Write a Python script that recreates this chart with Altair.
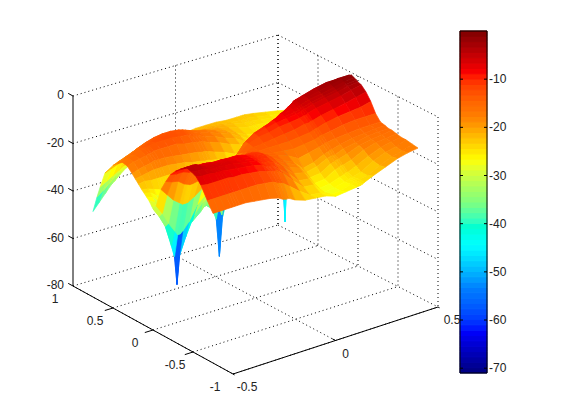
import altair as alt
import pandas as pd

alt.data_transformers.disable_max_rows()

# Surface mesh: x (columns), y (rows), z in dB
x_grid = [-.5,-.47,-.44,-.41,-.395,-.383,-.37,-.34,-.30,-.26,-.22,-.18,-.16,-.145,-.13,-.10,-.05,0,.05,.10,.15,.20,.22,.23,.24,.28,.34,.40,.45,.50]
y_grid = [.75,.70,.66,.60,.50,.44,.38,.32,.26,.22,.18,.14,.11,.08,.05,.02,0,-.04,-.10,-.16,-.22,-.28,-.34,-.38,-.425,-.48,-.54,-.60,-.68,-.75]
z_rows = [
[-44,-41,-38,-35,-34,-33,-32,-30,-28,-26.5,-25.5,-24.5,-24,-24,-23.5,-23,-22.5,-22,-22,-22,-22.5,-22.5,-22.5,-22.5,-22.5,-23,-24,-25,-26,-27],
[-37,-35,-33,-30.5,-29.5,-29,-28,-26.5,-25,-24,-23,-22.5,-22,-22,-22,-21.5,-21.5,-21.5,-21.5,-22,-22.5,-23,-23,-23,-23,-23.5,-24.5,-25.5,-26,-27],
[-32,-30.5,-29,-27.5,-26.5,-26,-25.5,-24.5,-23,-22,-21,-20.5,-20.5,-20.5,-20.5,-20.5,-20.5,-21,-21,-21.5,-22.5,-23.5,-23.5,-23.5,-23.5,-24,-25,-25.5,-26,-27],
[-25,-24,-23,-22,-21.5,-21,-20,-19,-18,-17.5,-17,-17,-17,-17,-17,-18,-19,-20,-20.5,-21.5,-23,-24,-24,-24,-24,-24.5,-25,-26,-26.5,-27],
[-20,-19,-18,-17,-16.5,-16,-15.5,-14.5,-13.5,-13,-13,-13.5,-14,-14.5,-15,-16,-17,-18.5,-20,-22,-24,-25,-25.5,-25.5,-25.5,-26,-26,-26.5,-27,-27],
[-18,-17,-16,-15,-14.5,-14,-14,-13,-12.5,-12.5,-12.5,-13,-14,-14.5,-15,-15.5,-17,-18.5,-20,-22.5,-25,-26,-26,-26.5,-26.5,-26.5,-26.5,-27,-27,-27],
[-16.5,-15.5,-15,-14,-13.5,-13.5,-13,-12.5,-12.5,-12.5,-13,-13.5,-14.5,-14.5,-15,-16,-17.5,-19.5,-21,-23.5,-26,-27,-27,-27,-27,-27,-27,-27,-26.5,-26],
[-17,-16,-15.5,-15,-14.5,-14.5,-14,-14,-14,-14,-15,-15.5,-16,-16,-16.5,-17.5,-19,-21,-22.5,-25,-27,-28,-28,-28,-28,-28,-28,-28,-27,-24],
[-19,-18,-17.5,-17,-16.5,-16.5,-16.5,-16.5,-17,-17.5,-18,-18.5,-19,-19,-19.5,-20.5,-22,-24,-25.5,-27,-28.5,-30,-31,-33,-31,-31,-31,-32,-26,-20],
[-20.5,-20,-19.5,-19,-19,-19,-19,-19,-19.5,-20,-21,-21.5,-22,-22,-22.5,-23,-25,-26.5,-28,-29,-30,-32,-36,-58,-36,-30,-26,-20,-16,-14],
[-22,-21.5,-22,-22,-22,-22,-22,-22,-22,-23,-24,-24.5,-25,-26,-25,-25.5,-27.5,-29,-30,-30.5,-31,-24,-18,-14,-12,-10,-7,-5.5,-6,-8],
[-23.5,-24,-25,-26,-26,-26,-26,-26,-26,-26.5,-27.5,-28,-29,-30,-28.5,-29,-31,-32,-28,-22,-16,-10,-8,-7,-6,-5,-3.5,-2.5,-2.5,-3],
[-24.5,-25,-27,-28.5,-29,-29,-29,-29,-29,-29.5,-31,-33,-35,-37,-35,-35,-33,-28,-22,-15,-10,-7,-6,-5.5,-5,-4.5,-3,-2,-1.5,-1.5],
[-25.5,-26.5,-29,-31,-32,-32,-32,-32,-33,-34,-36,-39,-44,-60,-44,-34,-27,-20,-15,-11,-8,-6.5,-6,-5.5,-5.5,-4.5,-3.5,-2.5,-1.5,-1],
[-26.5,-28,-32,-35,-37,-37,-37,-37,-37,-37,-36,-36,-38,-42,-36,-26,-20,-15,-11,-9,-7.5,-7,-6.5,-6,-6,-5,-4,-3,-2,-1.5],
[-28,-31,-36,-41,-44,-46,-44,-41,-40,-37,-33,-31,-30.5,-30,-29,-20,-14,-11,-9.5,-8.5,-8,-7.5,-7,-6.5,-6.5,-5.5,-4.5,-3.5,-2.5,-2],
[-29,-33,-38,-47,-52,-64,-52,-45,-37,-33,-31,-28.5,-27.5,-27,-26,-18,-13,-11,-10,-9,-8.5,-8,-7.5,-7,-7,-6,-5,-4,-3,-2.5],
[-27,-31,-36,-40,-42,-42,-41,-38,-32,-29,-27,-25,-24,-23.5,-22.5,-16,-13,-11.5,-11,-10,-9.5,-9,-8.5,-8.5,-8,-7,-6,-5,-4,-3],
[-19,-22,-25,-27,-28,-28,-28,-26.5,-24,-22.5,-21,-19.5,-19,-19,-18,-14.5,-13.5,-13,-12.5,-12,-11.5,-10.5,-10.5,-10,-10,-9,-8,-7,-6,-5],
[-14.5,-15.5,-16,-18,-18.5,-19,-19,-18.5,-18,-17,-16,-15.5,-15.5,-15.5,-15,-13,-14,-14,-14,-14,-13.5,-13,-12.5,-12,-12,-11,-10,-9.5,-9,-8],
[-10.5,-11,-11,-12,-12,-12,-12,-12.5,-13,-12.5,-12,-12.5,-12.5,-12.5,-12,-12,-14,-15,-15.5,-16,-15.5,-15,-14.5,-14,-14,-13.5,-12.5,-12,-12,-12],
[-8,-8,-8,-8.5,-8.5,-8.5,-8.5,-9,-9.5,-9.5,-9.5,-10,-10.5,-10.5,-10.5,-11,-13.5,-15,-16.5,-19,-18,-17,-16.5,-16,-16,-15.5,-15,-14.5,-14.5,-14.5],
[-6,-6,-6,-7,-7,-7,-7,-7.5,-7.5,-8,-8,-9,-9.5,-10,-10,-10.5,-13.5,-16,-18,-22,-21,-19,-18.5,-18,-18,-17,-16,-15.5,-15,-15],
[-5,-5,-5,-6.5,-6.5,-6.5,-6.5,-7,-7,-7.5,-8,-9,-9.5,-10,-10,-10.5,-14,-16.5,-18.5,-23,-22,-20,-19.5,-19.5,-19.5,-18,-17,-16,-15.5,-15.5],
[-4,-4.5,-4.5,-6,-6,-6,-6,-6.5,-6.5,-7.5,-8,-9,-9.5,-10,-10,-11,-14.5,-17.5,-19,-24.5,-24,-21.5,-21,-20.5,-20.5,-19.5,-17.5,-16.5,-16,-15.5],
[-4.5,-5,-5,-6,-6,-6,-6,-6.5,-6.5,-7.5,-8,-9,-10,-10.5,-10.5,-11.5,-15,-19,-20,-26,-25.5,-23,-22.5,-22,-22,-21,-18.5,-17,-16.5,-16],
[-5.5,-6,-6,-6.5,-6.5,-6.5,-6.5,-7,-7.5,-8,-8.5,-9.5,-10.5,-11,-11,-13,-16.5,-21,-21.5,-27,-26.5,-25,-24.5,-24,-24,-22.5,-20,-18,-17,-16.5],
[-8,-8.5,-8.5,-8.5,-8.5,-8.5,-8.5,-9,-9,-9.5,-10,-11,-11.5,-12,-12,-14,-18.5,-22.5,-23,-27.5,-27,-26,-25.5,-25,-25,-24,-21,-19,-18,-16.5],
[-13,-13,-13,-13,-13,-13,-13,-13,-13,-13,-13.5,-14,-15,-15.5,-16,-18,-21.5,-24.5,-25,-27,-27,-25.5,-25,-25,-24.5,-24,-21.5,-19.5,-18.5,-17],
[-17,-17,-17,-17,-17,-17,-17,-17,-17.5,-18,-18.5,-19.5,-20.5,-21,-21,-22.5,-24,-24.5,-25,-26.5,-26,-25.5,-25.3,-25,-24.5,-23,-21,-19,-18,-17.4],
]

x_ticks = [-0.5, 0, 0.5]
y_ticks = [1, 0.5, 0, -0.5, -1]
z_ticks = [0, -20, -40, -60, -80]
cb_ticks = [-10, -20, -30, -40, -50, -60, -70]
z_tick_labels = ["0", "-20", "-40", "-60", "-80"]
y_tick_labels = ["1", "0.5", "0", "-0.5", "-1"]
x_tick_labels = ["-0.5", "0", "0.5"]
cb_tick_labels = ["-10", "-20", "-30", "-40", "-50", "-60", "-70"]

jet = ["#00007f", "#0000ff", "#007fff", "#00ffff", "#7fff7f", "#ffff00", "#ff7f00", "#ff0000", "#7f0000"]
color_scale = alt.Scale(domain=[-71, 0], range=jet, clamp=True)

W, H = 545, 404
OX, OY = 8, 8  # page margin


def proj(x, y, z):
    """3D view: corners of the floor as seen on the picture."""
    s, t = x + 0.5, (1 - y) / 2
    fx = 73 + 205 * s + 160 * t
    fy = 286 - 61 * s + 88 * t - 6 * s * t
    return fx - OX, fy - 2.375 * (z + 80) - OY


# surface cells, far to near; each cell is one filled path coloured by its corners
rows = []
cell = 0
for j in range(len(y_grid) - 1):
    for i in range(len(x_grid) - 2, -1, -1):
        c = [(i, j), (i + 1, j), (i + 1, j + 1), (i, j + 1)]
        zs = [z_rows[b][a] for a, b in c]
        zm = sum(zs) / 4
        if max(zs) - min(zs) > 12:  # keep the deep nulls dark
            zm = (zm + min(zs)) / 2
        for k, (a, b) in enumerate(c + c[:1]):
            px, py = proj(x_grid[a], y_grid[b], z_rows[b][a])
            rows.append({"px": px, "py": py, "cell": cell, "k": k, "zm": zm})
        cell += 1
surface_df = pd.DataFrame(rows)

xs = alt.X("px:Q", scale=alt.Scale(domain=[0, W], range=[0, W], nice=False, zero=False), axis=None)
ys = alt.Y("py:Q", scale=alt.Scale(domain=[H, 0], range=[H, 0], nice=False, zero=False), axis=None)

surface = alt.Chart(surface_df).mark_line(filled=True, strokeWidth=0.7, interpolate="linear").encode(
    x=xs, y=ys,
    detail="cell:Q",
    order="k:Q",
    fill=alt.Fill("zm:Q", scale=color_scale, legend=None),
    stroke=alt.Stroke("zm:Q", scale=color_scale, legend=None),
)


def seg(p, q):
    a, b = proj(*p), proj(*q)
    return {"px": a[0], "py": a[1], "px2": b[0], "py2": b[1]}


dotted = []
for z in z_ticks[:-1]:
    dotted.append(seg((-.5, 1, z), (.5, 1, z)))
    dotted.append(seg((.5, 1, z), (.5, -1, z)))
for x in x_ticks[1:]:
    dotted.append(seg((x, 1, 0), (x, 1, -80)))
for x in x_ticks:
    dotted.append(seg((x, 1, -80), (x, -1, -80)))
for y in y_ticks:
    dotted.append(seg((.5, y, 0), (.5, y, -80)))
    dotted.append(seg((-.5, y, -80), (.5, y, -80)))
grid = alt.Chart(pd.DataFrame(dotted)).mark_rule(color="black", strokeWidth=1, strokeDash=[1, 3]).encode(
    x=xs, y=ys, x2="px2:Q", y2="py2:Q")

solid = [seg((-.5, 1, 0), (-.5, 1, -80)), seg((-.5, 1, -80), (-.5, -1, -80)), seg((-.5, -1, -80), (.5, -1, -80))]
for z in z_ticks:
    solid.append(seg((-.5, 1, z), (-.5, 1.06, z)))
for y in y_ticks[1:-1]:
    solid.append(seg((-.5, y, -80), (-.54, y, -80)))
for x in x_ticks:
    solid.append(seg((x, -1, -80), (x, -.96, -80)) if x == 0 else seg((x, -1, -80), (x, -1.02, -80)))
axes_lines = alt.Chart(pd.DataFrame(solid)).mark_rule(color="black", strokeWidth=1).encode(
    x=xs, y=ys, x2="px2:Q", y2="py2:Q")

text_rows = []
for lab, z in zip(z_tick_labels, z_ticks):
    a = proj(-.5, 1, z)
    text_rows.append({"px": a[0] - 9, "py": a[1] - 1, "t": lab, "al": "right"})
for lab, y in zip(y_tick_labels, y_ticks):
    a = proj(-.5, y, -80)
    text_rows.append({"px": a[0] - 18, "py": a[1] + 13, "t": lab, "al": "center"})
for lab, x in zip(x_tick_labels, x_ticks):
    a = proj(x, -1, -80)
    text_rows.append({"px": a[0] + (14 if x else 10), "py": a[1] + 13, "t": lab, "al": "center"})
text_df = pd.DataFrame(text_rows)
labels = alt.layer(*[
    alt.Chart(text_df[text_df.al == al]).mark_text(align=al, baseline="middle", fontSize=12, font="Liberation Sans", color="#222222").encode(
        x=xs, y=ys, text="t:N")
    for al in ["right", "center"]
])


# colour bar
def cb_y(v):
    return 31 + (0 - v) * (373 - 31) / 71 - OY


cb_x0, cb_x1 = 460 - OX, 487 - OX
levels = [-71 + i * 71 / 64 for i in range(65)]
cb_df = pd.DataFrame([{"px": cb_x0, "px2": cb_x1, "py": cb_y(levels[i]), "py2": cb_y(levels[i + 1]),
                       "v": (levels[i] + levels[i + 1]) / 2} for i in range(64)])
cb = alt.Chart(cb_df).mark_rect(strokeWidth=1).encode(
    x=xs, y=ys, x2="px2:Q", y2="py2:Q",
    fill=alt.Fill("v:Q", scale=color_scale, legend=None),
    stroke=alt.Stroke("v:Q", scale=color_scale, legend=None))
cb_lines = [{"px": cb_x0, "py": cb_y(0), "px2": cb_x1, "py2": cb_y(0)},
            {"px": cb_x0, "py": cb_y(-71), "px2": cb_x1, "py2": cb_y(-71)},
            {"px": cb_x0, "py": cb_y(0), "px2": cb_x0, "py2": cb_y(-71)},
            {"px": cb_x1, "py": cb_y(0), "px2": cb_x1, "py2": cb_y(-71)}]
for v in cb_ticks:
    cb_lines.append({"px": cb_x0, "py": cb_y(v), "px2": cb_x0 + 3, "py2": cb_y(v)})
    cb_lines.append({"px": cb_x1 - 3, "py": cb_y(v), "px2": cb_x1, "py2": cb_y(v)})
cb_frame = alt.Chart(pd.DataFrame(cb_lines)).mark_rule(color="black", strokeWidth=1).encode(
    x=xs, y=ys, x2="px2:Q", y2="py2:Q")
cb_text = alt.Chart(pd.DataFrame([{"px": cb_x1 + 2, "py": cb_y(v), "t": lab} for v, lab in zip(cb_ticks, cb_tick_labels)])).mark_text(
    align="left", baseline="middle", fontSize=12, font="Liberation Sans", color="#222222").encode(x=xs, y=ys, text="t:N")

chart = alt.layer(grid, axes_lines, labels, surface, cb, cb_frame, cb_text).properties(
    width=W, height=H, padding=0).configure_view(stroke=None)

chart.save("out.html", embed_options={"renderer": "svg", "actions": False})
